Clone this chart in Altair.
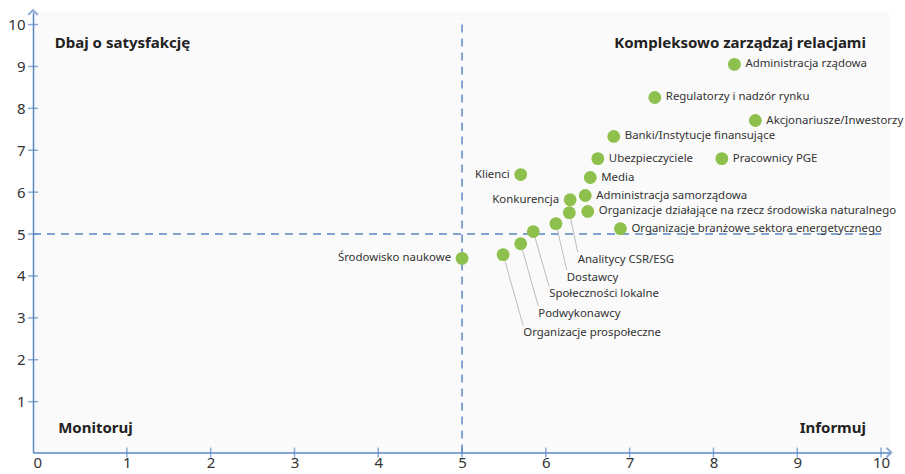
import altair as alt
import pandas as pd

# ---- data -------------------------------------------------------------
names = [
    "Administracja rządowa", "Regulatorzy i nadzór rynku", "Akcjonariusze/Inwestorzy",
    "Banki/Instytucje finansujące", "Ubezpieczyciele", "Pracownicy PGE", "Klienci", "Media",
    "Konkurencja", "Administracja samorządowa",
    "Organizacje działające na rzecz środowiska naturalnego",
    "Organizacje branżowe sektora energetycznego", "Analitycy CSR/ESG", "Dostawcy",
    "Społeczności lokalne", "Podwykonawcy", "Organizacje prospołeczne", "Środowisko naukowe",
]
xs = [8.25, 7.30, 8.50, 6.81, 6.62, 8.10, 5.70, 6.53, 6.29, 6.47, 6.50, 6.89, 6.28, 6.12, 5.85, 5.70, 5.49, 5.00]
ys = [9.05, 8.26, 7.71, 7.33, 6.80, 6.80, 6.42, 6.35, 5.82, 5.92, 5.54, 5.13, 5.51, 5.25, 5.06, 4.77, 4.51, 4.42]
side = ["right", "right", "right", "right", "right", "right", "left", "right", "left", "right",
        "right", "right", "below", "below", "below", "below", "below", "left"]
# label anchors (data units) for the labels placed below with leader lines
label_x = [None] * 12 + [6.38, 6.25, 6.04, 5.91, 5.73, None]
label_y = [None] * 12 + [4.39, 3.96, 3.56, 3.10, 2.63, None]

quad_text = ["Dbaj o satysfakcję", "Kompleksowo zarządzaj relacjami", "Monitoruj", "Informuj"]
quad_x = [0.14, 9.82, 0.18, 9.82]
quad_y = [9.57, 9.57, 0.36, 0.36]
quad_align = ["left", "right", "left", "right"]

x_ticks = [1, 2, 3, 4, 5, 6, 7, 8, 9, 10]
y_ticks = [1, 2, 3, 4, 5, 6, 7, 8, 9, 10]
XMIN, XMAX = -0.12, 10.1
YMIN, YMAX = -0.215, 10.3
MID = 5

# ---- style ------------------------------------------------------------
BLUE = "#5b87c5"
GREEN = "#8dc04c"
FONT = "Noto Sans"
W = (XMAX - XMIN) * 83.8
H = (YMAX - YMIN) * 41.9

df = pd.DataFrame({"name": names, "x": xs, "y": ys, "side": side,
                   "lx": label_x, "ly": label_y})
df["ly2"] = df["ly"] + 0.18

xs_ = alt.Scale(domain=[XMIN, XMAX], nice=False, zero=False)
ys_ = alt.Scale(domain=[YMIN, YMAX], nice=False, zero=False)

base = alt.Chart(df)

axes = alt.Chart(pd.DataFrame({"x": [XMIN], "y": [YMIN]})).mark_point(opacity=0).encode(
    x=alt.X("x:Q", scale=xs_, title=None,
            axis=alt.Axis(values=[XMIN] + x_ticks, format="d",
                          labelExpr="datum.value < 0 ? '0' : datum.label",
                          grid=False, ticks=False, labelPadding=3, labelFontSize=15,
                          labelColor="#333", labelFont=FONT, domainColor=BLUE, domainWidth=1.5)),
    y=alt.Y("y:Q", scale=ys_, title=None,
            axis=alt.Axis(values=y_ticks, format="d", grid=False, ticks=False, labelPadding=8,
                          labelFontSize=15, labelColor="#333", labelFont=FONT,
                          domainColor=BLUE, domainWidth=1.5)),
)

xtick_df = pd.DataFrame({"x": x_ticks, "y": [YMIN] * len(x_ticks)})
ytick_df = pd.DataFrame({"x": [XMIN] * len(y_ticks), "y": y_ticks})
xtick = alt.Chart(xtick_df).mark_tick(color=BLUE, size=10, thickness=1.5, orient="vertical").encode(
    x=alt.X("x:Q", scale=xs_), y=alt.Y("y:Q", scale=ys_))
ytick = alt.Chart(ytick_df).mark_tick(color=BLUE, size=10, thickness=1.5, orient="horizontal").encode(
    x=alt.X("x:Q", scale=xs_), y=alt.Y("y:Q", scale=ys_))

arrow_x = alt.Chart(pd.DataFrame({"x": [XMAX], "y": [YMIN]})).mark_point(
    shape="M-0.6,-1L0.4,0L-0.6,1", filled=False, color=BLUE, strokeWidth=2, size=90
).encode(x=alt.X("x:Q", scale=xs_), y=alt.Y("y:Q", scale=ys_))
arrow_y = alt.Chart(pd.DataFrame({"x": [XMIN], "y": [YMAX]})).mark_point(
    shape="M-1,0.6L0,-0.4L1,0.6", filled=False, color=BLUE, strokeWidth=2, size=90
).encode(x=alt.X("x:Q", scale=xs_), y=alt.Y("y:Q", scale=ys_))

vline = alt.Chart(pd.DataFrame({"x": [MID], "y": [YMIN], "y2": [YMAX - 0.15]})).mark_rule(
    color=BLUE, strokeDash=[8, 6], strokeWidth=1.5
).encode(x=alt.X("x:Q", scale=xs_), y=alt.Y("y:Q", scale=ys_), y2="y2:Q")
hline = alt.Chart(pd.DataFrame({"y": [MID], "x": [XMIN], "x2": [10.05]})).mark_rule(
    color=BLUE, strokeDash=[8, 6], strokeWidth=1.5
).encode(y=alt.Y("y:Q", scale=ys_), x=alt.X("x:Q", scale=xs_), x2="x2:Q")

below = base.transform_filter(alt.datum.side == "below")
leaders = below.mark_rule(color="#b5b5b5", strokeWidth=0.9).encode(
    x=alt.X("x:Q", scale=xs_), y=alt.Y("y:Q", scale=ys_), x2="lx:Q", y2="ly2:Q")

points = base.mark_circle(color=GREEN, opacity=1, size=165).encode(
    x=alt.X("x:Q", scale=xs_), y=alt.Y("y:Q", scale=ys_))

txt_kw = dict(font=FONT, fontSize=11.4, color="#333", baseline="middle")
right_lbl = base.transform_filter(alt.datum.side == "right").mark_text(align="left", dx=11, **txt_kw).encode(
    x=alt.X("x:Q", scale=xs_), y=alt.Y("y:Q", scale=ys_), text="name:N")
left_lbl = base.transform_filter(alt.datum.side == "left").mark_text(align="right", dx=-11, **txt_kw).encode(
    x=alt.X("x:Q", scale=xs_), y=alt.Y("y:Q", scale=ys_), text="name:N")
below_lbl = below.mark_text(align="left", **txt_kw).encode(
    x=alt.X("lx:Q", scale=xs_), y=alt.Y("ly:Q", scale=ys_), text="name:N")

qdf = pd.DataFrame({"t": quad_text, "x": quad_x, "y": quad_y, "a": quad_align})
q_left = alt.Chart(qdf).transform_filter(alt.datum.a == "left").mark_text(
    align="left", font=FONT, fontSize=15, fontWeight="bold", color="#222", baseline="middle"
).encode(x=alt.X("x:Q", scale=xs_), y=alt.Y("y:Q", scale=ys_), text="t:N")
q_right = alt.Chart(qdf).transform_filter(alt.datum.a == "right").mark_text(
    align="right", font=FONT, fontSize=15, fontWeight="bold", color="#222", baseline="middle"
).encode(x=alt.X("x:Q", scale=xs_), y=alt.Y("y:Q", scale=ys_), text="t:N")

chart = alt.layer(
    axes, vline, hline, leaders, points, right_lbl, left_lbl, below_lbl, q_left, q_right,
    xtick, ytick, arrow_x, arrow_y,
).properties(
    width=W, height=H, autosize="none",
    padding={"left": 33, "top": 12, "right": 905 - 33 - W, "bottom": 474 - 12 - H},
    background="white",
).configure_view(stroke=None, fill="#fafafa")

chart.save("out.html", embed_options={"renderer": "svg", "actions": False})
